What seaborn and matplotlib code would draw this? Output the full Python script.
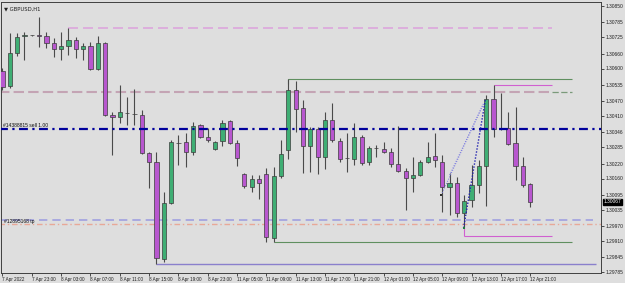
import numpy as np
import pandas as pd
import matplotlib
matplotlib.use("Agg")
import matplotlib.pyplot as plt
import seaborn as sns

# ---- data ----
opens = [1.30590, 1.30530, 1.30662, 1.30732, 1.30734, 1.30734, 1.30730, 1.30702, 1.30678, 1.30690,
         1.30714, 1.30678, 1.30690, 1.30598, 1.30702, 1.30414, 1.30406, 1.30424, 1.30418, 1.30414,
         1.30262, 1.30226, 1.29838, 1.30062, 1.30304, 1.30306, 1.30266, 1.30374, 1.30326, 1.30278,
         1.30310, 1.30390, 1.30302, 1.30178, 1.30126, 1.30158, 1.30178, 1.29922, 1.30170, 1.30274,
         1.30514, 1.30442, 1.30290, 1.30358, 1.30246, 1.30394, 1.30310, 1.30242, 1.30238, 1.30326,
         1.30226, 1.30281, 1.30278, 1.30266, 1.30218, 1.30190, 1.30162, 1.30174, 1.30226, 1.30250,
         1.30226, 1.30126, 1.30142, 1.30022, 1.30074, 1.30134, 1.30210, 1.30478, 1.30362, 1.30362,
         1.30302, 1.30210, 1.30138]
highs = [1.30602, 1.30742, 1.30742, 1.30746, 1.30736, 1.30806, 1.30746, 1.30722, 1.30746, 1.30762,
         1.30726, 1.30702, 1.30706, 1.30730, 1.30706, 1.30426, 1.30534, 1.30486, 1.30518, 1.30434,
         1.30266, 1.30266, 1.30106, 1.30314, 1.30334, 1.30342, 1.30386, 1.30378, 1.30362, 1.30310,
         1.30394, 1.30394, 1.30314, 1.30182, 1.30174, 1.30174, 1.30202, 1.30206, 1.30314, 1.30558,
         1.30550, 1.30474, 1.30366, 1.30366, 1.30426, 1.30462, 1.30322, 1.30342, 1.30382, 1.30334,
         1.30290, 1.30294, 1.30306, 1.30282, 1.30370, 1.30202, 1.30246, 1.30234, 1.30306, 1.30342,
         1.30254, 1.30182, 1.30166, 1.30094, 1.30214, 1.30234, 1.30494, 1.30534, 1.30502, 1.30426,
         1.30446, 1.30246, 1.30142]
lows = [1.30514, 1.30522, 1.30650, 1.30634, 1.30730, 1.30686, 1.30682, 1.30646, 1.30634, 1.30654,
        1.30642, 1.30634, 1.30594, 1.30594, 1.30410, 1.30254, 1.30382, 1.30374, 1.30374, 1.30258,
        1.30122, 1.29818, 1.29826, 1.30058, 1.30214, 1.30206, 1.30254, 1.30322, 1.30306, 1.30274,
        1.30290, 1.30298, 1.30210, 1.30122, 1.30106, 1.30078, 1.29906, 1.29906, 1.30162, 1.30238,
        1.30346, 1.30182, 1.30186, 1.30178, 1.30198, 1.30306, 1.30226, 1.30186, 1.30214, 1.30214,
        1.30214, 1.30246, 1.30262, 1.30206, 1.30186, 1.30034, 1.30106, 1.30170, 1.30222, 1.30206,
        1.30026, 1.30014, 1.30006, 1.29962, 1.30046, 1.30102, 1.30050, 1.30326, 1.30354, 1.30294,
        1.30154, 1.30126, 1.30046]
closes = [1.30526, 1.30662, 1.30726, 1.30734, 1.30733, 1.30730, 1.30702, 1.30678, 1.30690, 1.30714,
          1.30678, 1.30690, 1.30598, 1.30702, 1.30414, 1.30406, 1.30426, 1.30422, 1.30417, 1.30262,
          1.30226, 1.29842, 1.30062, 1.30306, 1.30302, 1.30266, 1.30370, 1.30326, 1.30314, 1.30306,
          1.30382, 1.30302, 1.30242, 1.30130, 1.30158, 1.30142, 1.29926, 1.30170, 1.30258, 1.30514,
          1.30438, 1.30290, 1.30358, 1.30246, 1.30394, 1.30314, 1.30238, 1.30241, 1.30326, 1.30222,
          1.30282, 1.30282, 1.30266, 1.30218, 1.30190, 1.30162, 1.30174, 1.30226, 1.30246, 1.30234,
          1.30126, 1.30142, 1.30022, 1.30070, 1.30134, 1.30210, 1.30478, 1.30358, 1.30358, 1.30298,
          1.30210, 1.30134, 1.30067]

x_tick_idx = [0, 4, 8, 12, 16, 20, 24, 28, 32, 36, 40, 44, 48, 52, 56, 60, 64, 68, 72]
x_tick_labels = ["7 Apr 2022", "7 Apr 23:00", "8 Apr 03:00", "8 Apr 07:00", "8 Apr 11:00",
                 "8 Apr 15:00", "8 Apr 19:00", "8 Apr 23:00", "11 Apr 05:00", "11 Apr 09:00",
                 "11 Apr 13:00", "11 Apr 17:00", "11 Apr 21:00", "12 Apr 01:00", "12 Apr 05:00",
                 "12 Apr 09:00", "12 Apr 13:00", "12 Apr 17:00", "12 Apr 21:00"]
y_ticks = [1.30850, 1.30785, 1.30725, 1.30660, 1.30600, 1.30535, 1.30470, 1.30410, 1.30346,
           1.30285, 1.30220, 1.30160, 1.30095, 1.30035, 1.29970, 1.29910, 1.29845, 1.29785]

# horizontal levels
level_resist_top = 1.30762
level_resist = 1.30506
box_top = 1.30558
box_bottom = 1.29906
mag_top = 1.30534
mag_bottom = 1.29930
sell_level = 1.30358
tp_upper = 1.29994
tp_level = 1.29978
low_line = 1.29818
current_price = 1.30067

df = pd.DataFrame({"o": opens, "h": highs, "l": lows, "c": closes})
df["i"] = np.arange(len(df))
df["up"] = df["c"] >= df["o"]

# ---- figure ----
sns.set_theme(style="white")
plt.rcParams["font.family"] = ["Liberation Sans", "DejaVu Sans"]
bg = "#dedede"
fig = plt.figure(figsize=(6.25, 2.83), dpi=100, facecolor=bg)
ax = fig.add_axes([1/625, 1 - 273/283, 600/625, 271/283])
ax.set_facecolor(bg)

green = "#3fae74"
purple = "#b857cf"
edge = "#3c3c3c"

ax.vlines(df["i"], df["l"], df["h"], color="#4a4a4a", lw=0.8, zorder=3)
bottoms = np.minimum(df["o"], df["c"])
heights = np.maximum(np.abs(df["c"] - df["o"]), 0.000012)
colors = [green if u else purple for u in df["up"]]
ax.bar(df["i"], heights, bottom=bottoms, width=0.58, color=colors,
       edgecolor=edge, linewidth=0.5, zorder=4)

# levels
ax.hlines(level_resist_top, 9, 75, color="#dca6dc", lw=1.2, linestyles=(0, (6, 3)), zorder=2)
ax.hlines(level_resist, -1, 75, color="#c4a4b4", lw=1.5, linestyles=(0, (5, 2)), zorder=2)
ax.hlines(level_resist, 75, 77.7, color="#7a9a7a", lw=0.9, linestyles=(0, (5, 2)), zorder=2)
ax.hlines(box_top, 39, 77.7, color="#5f8f5f", lw=0.8, zorder=2)
ax.vlines(39, 1.30540, box_top, color="#5f8f5f", lw=0.8, zorder=2)
ax.hlines(box_bottom, 37, 77.7, color="#5f8f5f", lw=0.8, zorder=2)
ax.hlines(mag_top, 67, 75, color="#d060d0", lw=0.8, zorder=2)
ax.hlines(mag_bottom, 63, 75, color="#d060d0", lw=0.8, zorder=2)
ax.vlines(63, mag_bottom, 1.29962, color="#d060d0", lw=0.8, zorder=2)
ax.hlines(sell_level, -1, 83, color="#00009c", lw=1.6, linestyles=(0, (4, 2, 1, 2)), zorder=5)
ax.hlines(tp_upper, -1, 80.6, color="#a0a0e0", lw=1.2, linestyles=(0, (5, 3)), zorder=2)
ax.hlines(tp_level, -1, 83, color="#e8a898", lw=1.0, linestyles=(0, (4, 2, 1, 2)), zorder=2)
ax.hlines(low_line, 21, 81, color="#8a80cc", lw=1.0, zorder=2)

# trend dotted lines
ax.plot([59.85, 65.6], [1.30094, 1.30458], color="#7a7ae0", lw=0.7, ls=(0, (1, 1.5)), zorder=5)
ax.plot([61.0, 65.6], [1.30174, 1.30458], color="#7a7ae0", lw=0.7, ls=(0, (1, 1.5)), zorder=5)
ax.plot([62.9, 65.9], [1.29962, 1.30478], color="#2020b0", lw=1.0, ls=(0, (1, 1.2)), zorder=5)
sns.scatterplot(x=[59.85], y=[1.30094], s=3, marker="s", color="#303030", ax=ax, zorder=6,
                linewidth=0)
sns.scatterplot(x=[62.9], y=[1.29962], s=3, marker="s", color="#208040", ax=ax, zorder=6,
                linewidth=0)

# texts
ax.text(0.1, sell_level + 0.00006, "#14388815 sell 1.00", fontsize=3.6, color="#101010",
        va="bottom", ha="left", zorder=6)
ax.text(0.2, tp_level + 0.00001, "#12895168 tp", fontsize=3.6, color="#101010",
        va="bottom", ha="left", zorder=6)
ax.text(0.005, 0.985, "\u25bc GBPUSD,H1", transform=ax.transAxes, fontsize=3.8,
        color="#202020", va="top", ha="left", family=["DejaVu Sans"])

# axes
ax.set_xlim(-0.2, 81.65)
ax.set_ylim(1.29782, 1.30866)
ax.set_xticks(x_tick_idx)
ax.set_xticklabels(x_tick_labels, fontsize=3.3, ha="left", color="#202020")
ax.yaxis.tick_right()
ax.set_yticks(y_ticks)
ax.set_yticklabels([f"{v:.5f}" for v in y_ticks], fontsize=3.5, color="#202020")
ax.tick_params(axis="both", length=2, width=0.6, pad=1, colors="#303030",
               labelcolor="#202020", direction="out")
ax.tick_params(axis="x", bottom=True)
ax.tick_params(axis="y", right=True, left=False)
for s in ax.spines.values():
    s.set_color("#404040")
    s.set_linewidth(0.7)
ax.grid(False)

ax.annotate("1.30067", xy=(1.0, current_price), xycoords=("axes fraction", "data"),
            xytext=(2, 0), textcoords="offset points", fontsize=3.5, color="white",
            va="center", ha="left",
            bbox=dict(boxstyle="square,pad=0.15", fc="black", ec="black"),
            annotation_clip=False, zorder=10)

fig.savefig("out.png", dpi=100, facecolor=bg)
